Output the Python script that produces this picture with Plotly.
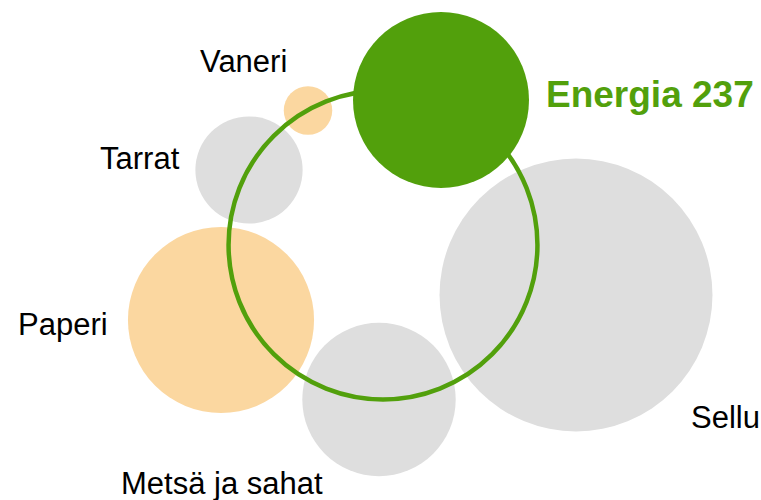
import math
import plotly.graph_objects as go

# ---- data ----
categories = ["Sellu", "Paperi", "Metsä ja sahat", "Tarrat", "Vaneri", "Energia"]
values = [570, 265, 180, 88, 18, 237]
groups = ["gray", "orange", "gray", "gray", "orange", "green"]
ring_value = 730

# ---- layout (pixel positions of bubble centres and labels) ----
W, H = 761, 500
centers_x = [576, 221, 379, 249, 308, 441]
centers_y = [295, 320, 399.5, 170, 110.5, 100]
ring_center = (383, 245)
label_x = [725, 63, 222, 140, 243, 650]
label_y = [417, 324, 483, 158, 61, 94]

K = 88 / math.sqrt(237)          # radius (px) per sqrt(value)
sizeref = 1 / (2 * K * K)        # plotly area mode: r = sqrt(size / (2*sizeref))

colors = {"gray": "#DEDEDE", "orange": "#FBD7A0", "green": "#52A00C"}

fig = go.Figure()

# background bubbles (everything except Energia)
for i, c in enumerate(categories):
    if c == "Energia":
        continue
    fig.add_trace(go.Scatter(
        x=[centers_x[i]], y=[centers_y[i]], mode="markers",
        marker=dict(size=[values[i]], sizemode="area", sizeref=sizeref,
                    color=colors[groups[i]], line=dict(width=0), opacity=1),
        hoverinfo="text", hovertext=[f"{c} {values[i]}"], cliponaxis=False,
        showlegend=False))

# green ring
fig.add_trace(go.Scatter(
    x=[ring_center[0]], y=[ring_center[1]], mode="markers",
    marker=dict(size=[ring_value], sizemode="area", sizeref=sizeref, opacity=1,
                color="rgba(0,0,0,0)", line=dict(width=4.5, color=colors["green"])),
    hoverinfo="skip", cliponaxis=False, showlegend=False))

# Energia on top
i = categories.index("Energia")
fig.add_trace(go.Scatter(
    x=[centers_x[i]], y=[centers_y[i]], mode="markers",
    marker=dict(size=[values[i]], sizemode="area", sizeref=sizeref, opacity=1,
                color=colors["green"], line=dict(width=0)),
    hoverinfo="text", hovertext=[f"Energia {values[i]}"], cliponaxis=False,
    showlegend=False))

# labels
for j, c in enumerate(categories):
    if c == "Energia":
        txt = f"<b>Energia {values[j]}</b>"
        font = dict(family="Liberation Sans, Arial, sans-serif", size=37, color=colors["green"])
    else:
        txt = c
        font = dict(family="Liberation Sans, Arial, sans-serif", size=31, color="#000000")
    fig.add_annotation(x=label_x[j], y=label_y[j], text=txt, showarrow=False,
                       xanchor="center", yanchor="middle", font=font)

fig.update_layout(
    width=W, height=H, margin=dict(l=0, r=0, t=0, b=0),
    paper_bgcolor="white", plot_bgcolor="white",
    xaxis=dict(range=[0, W], visible=False, fixedrange=True),
    yaxis=dict(range=[H, 0], visible=False, fixedrange=True),
)

fig.write_html("out.html", config={"displayModeBar": False},
               post_script="document.body.style.margin='0';")
